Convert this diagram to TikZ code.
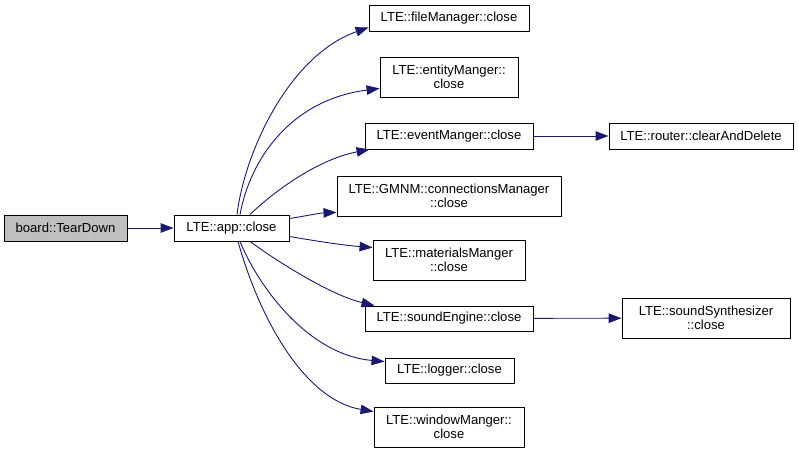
\documentclass[tikz,border=0pt]{standalone}
\usepackage{fontspec}
\setmainfont{Liberation Sans}
\usetikzlibrary{arrows.meta}
\definecolor{edgeblue}{HTML}{191970}
\definecolor{curgray}{HTML}{BFBFBF}
% box for one function: [extra], name, centre, width, height, text
\newcommand{\fnbox}[6][]{%
  \node[fn,minimum width=#4pt,minimum height=#5pt,#1] (#2) at (#3) {#6};}

\begin{document}
\begin{tikzpicture}[x=1pt,y=-1pt,
    fn/.style={draw=black,line width=0.9pt,inner sep=0pt,align=center,
      font=\fontsize{13.1}{14.5}\selectfont},
    call/.style={draw=edgeblue,line width=0.9pt,-{Triangle[length=13pt,width=9.5pt]}}]
  \useasboundingbox (0,0) rectangle (799,454);
  \fnbox[fill=curgray]{tear}{65.5,228}{123}{26}{board::TearDown}
  \fnbox{app}{231.5,228}{115}{26}{LTE::app::close}
  \fnbox{file}{449,18}{160}{26}{LTE::fileManager::close}
  \fnbox{entity}{449,77}{138}{40}{LTE::entityManger::\\close}
  \fnbox{event}{449,136}{168}{26}{LTE::eventManger::close}
  \fnbox{gmnm}{449,196}{224}{40}{LTE::GMNM::connectionsManager\\::close}
  \fnbox{material}{449,260}{152}{40}{LTE::materialsManger\\::close}
  \fnbox{sound}{449,318.5}{168}{25}{LTE::soundEngine::close}
  \fnbox{logger}{449.5,370.5}{129}{25}{LTE::logger::close}
  \fnbox{window}{449,427}{150}{40}{LTE::windowManger::\\close}
  \fnbox{router}{701,136}{184}{26}{LTE::router::clearAndDelete}
  \fnbox{synth}{706,318}{168}{40}{LTE::soundSynthesizer\\::close}
  % calls
  \draw[call] (tear) -- (app);
  \draw[call] ([xshift=5.5pt]app.north) .. controls (245,150) and (290,55) .. ([yshift=4pt]file.south west);
  \draw[call] ([xshift=8.5pt]app.north) .. controls (250,160) and (290,100) .. ([yshift=9pt]entity.south west);
  \draw[call] ([xshift=18.5pt]app.north) .. controls (270,195) and (315,160) .. ([xshift=5pt]event.south west);
  \draw[call] ([yshift=-4pt]app.north east) .. controls (305,216) and (320,213) .. ([yshift=4pt]gmnm.south west);
  \draw[call] ([yshift=5pt]app.south east) .. controls (310,240) and (340,245) .. ([yshift=-8pt]material.north west);
  \draw[call] ([xshift=18.5pt]app.south) .. controls (275,260) and (330,295) .. ([xshift=10pt]sound.north west);
  \draw[call] ([xshift=8.5pt]app.south) .. controls (260,290) and (310,355) .. ([yshift=-4pt]logger.north west);
  \draw[call] ([xshift=6.5pt]app.south) .. controls (260,320) and (305,400) .. ([yshift=-5pt]window.north west);
  \draw[call] (event) -- (router);
  \draw[call] (sound) -- (synth);
\end{tikzpicture}
\end{document}
